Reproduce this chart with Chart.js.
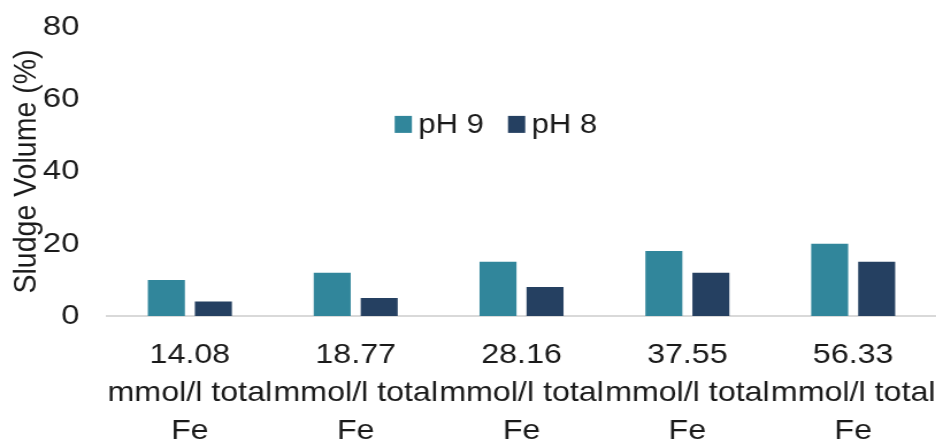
<!DOCTYPE html>
<html>
<head>
<meta charset="utf-8">
<script src="https://cdn.jsdelivr.net/npm/chart.js@4.4.1/dist/chart.umd.min.js"></script>
<style>
  html, body { margin: 0; padding: 0; background: #ffffff; overflow: hidden; }
  #frame {
    width: 814px;
    height: 439px;
    transform: scaleX(1.15);
    transform-origin: 0 0;
  }
</style>
</head>
<body>
<div id="frame"><canvas id="chart"></canvas></div>
<script>
// Iron dose per condition (one multi-line label per category)
const categories = [
  ['14.08', 'mmol/l total', 'Fe'],
  ['18.77', 'mmol/l total', 'Fe'],
  ['28.16', 'mmol/l total', 'Fe'],
  ['37.55', 'mmol/l total', 'Fe'],
  ['56.33', 'mmol/l total', 'Fe']
];
const seriesNames = ['pH 9', 'pH 8'];
const ph9Values = [10, 12, 15, 18, 20];
const ph8Values = [4, 5, 8, 12, 15];
const yTicks = [0, 20, 40, 60, 80];
const yTitle = 'Sludge Volume (%)';

const FONT = '"Liberation Sans", Arial, sans-serif';
const INK = '#1a1a1a';

// Legend drawn inside the plot area, upper middle
const innerLegend = {
  id: 'innerLegend',
  afterDraw(chart) {
    const { ctx, chartArea } = chart;
    const w = chartArea.right - chartArea.left;
    const h = chartArea.bottom - chartArea.top;
    let x = chartArea.left + w * 0.347;
    const y = chartArea.top + h * 0.337;
    ctx.save();
    ctx.font = '27px ' + FONT;
    ctx.textBaseline = 'middle';
    ctx.textAlign = 'left';
    chart.data.datasets.forEach((ds) => {
      ctx.fillStyle = ds.backgroundColor;
      ctx.fillRect(x, y - 8.5, 15, 17);
      x += 20.5;
      ctx.fillStyle = INK;
      ctx.fillText(ds.label, x, y + 1);
      x += ctx.measureText(ds.label).width + 21;
    });
    ctx.restore();
  }
};

new Chart(document.getElementById('chart'), {
  type: 'bar',
  data: {
    labels: categories,
    datasets: [
      { label: seriesNames[0], data: ph9Values, backgroundColor: '#31869b' },
      { label: seriesNames[1], data: ph8Values, backgroundColor: '#254061' }
    ]
  },
  options: {
    responsive: true,
    maintainAspectRatio: false,
    animation: false,
    categoryPercentage: 0.567,
    barPercentage: 0.787,
    layout: { padding: { top: 27, right: 0, bottom: 0, left: 0 } },
    plugins: {
      legend: { display: false },
      tooltip: { enabled: false }
    },
    scales: {
      x: {
        grid: { display: false },
        border: { display: true, color: '#d9d9d9', width: 2 },
        ticks: {
          color: INK,
          font: { family: FONT, size: 28, lineHeight: 1.36 },
          padding: 12,
          maxRotation: 0,
          autoSkip: false
        },
        afterFit(scale) {
          scale.paddingLeft = 0;
          scale.paddingRight = 0;
          scale.height = 123;
        }
      },
      y: {
        min: 0,
        max: 80,
        afterBuildTicks(scale) {
          scale.ticks = yTicks.map(v => ({ value: v }));
        },
        grid: { display: false, drawTicks: false },
        border: { display: false },
        ticks: {
          color: INK,
          font: { family: FONT, size: 28.5 },
          padding: 24
        },
        title: {
          display: true,
          text: yTitle,
          color: INK,
          font: { family: FONT, size: 28.5 },
          padding: { top: 6, bottom: 0 }
        },
        afterFit(scale) {
          scale.paddingTop = 0;
          scale.paddingBottom = 0;
          scale.width = 93;
        }
      }
    }
  },
  plugins: [innerLegend]
});
</script>
</body>
</html>
